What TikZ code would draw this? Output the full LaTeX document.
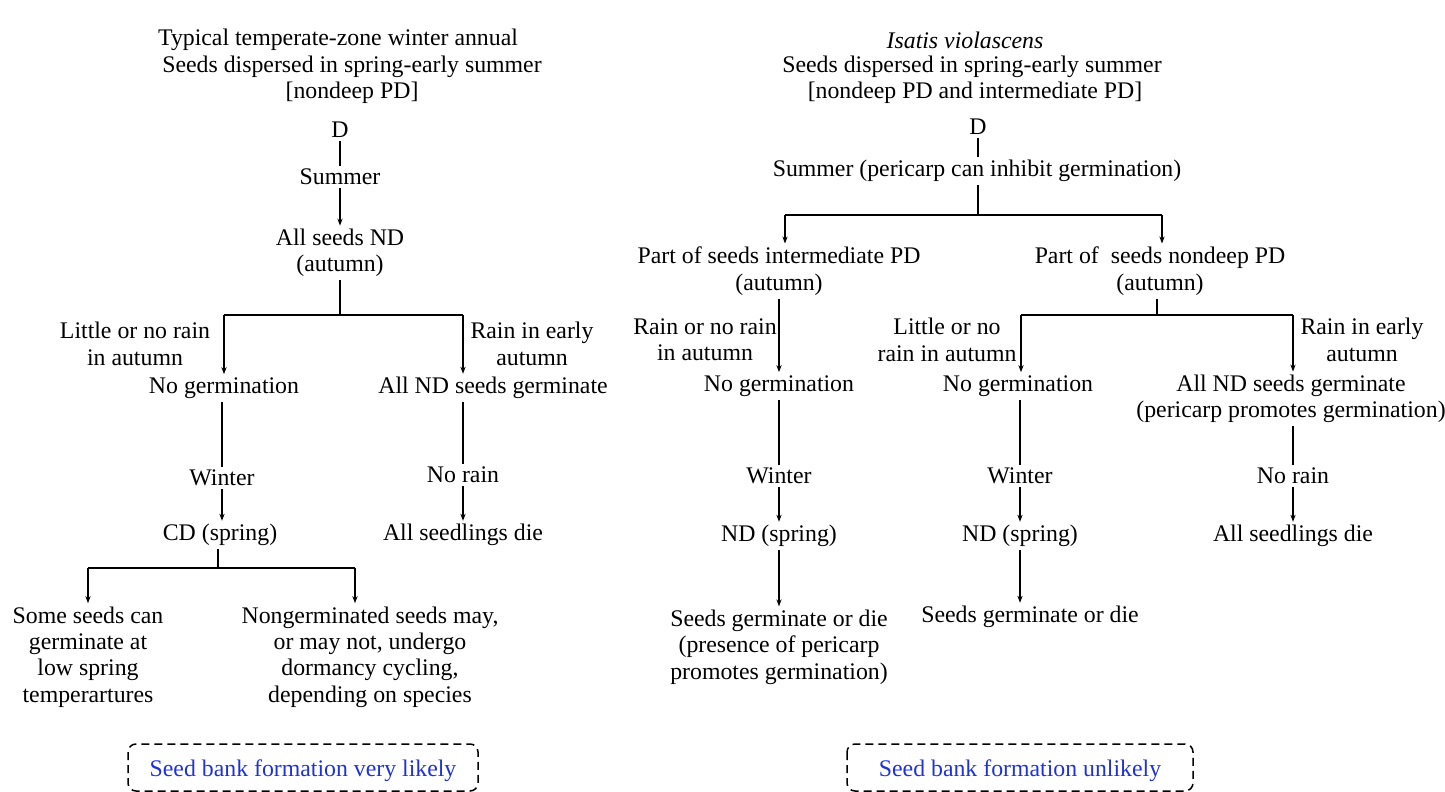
\documentclass[tikz,border=0pt]{standalone}
\usepackage{fontspec}
\setmainfont{Liberation Serif}
\usetikzlibrary{arrows.meta,calc}
\definecolor{bankblue}{RGB}{30,50,215}
\begin{document}
\begin{tikzpicture}[x=0.5pt,y=-0.5pt,
  txt/.style={inner sep=1.5pt,align=center,font=\fontsize{11.9}{13.2}\selectfont},
  ln/.style={line width=0.75pt},
  arr/.style={line width=0.75pt,-{Stealth[length=3.5pt,width=2.6pt]}},
  bankbox/.style={draw,dashed,dash pattern=on 4pt off 2.5pt,line width=0.75pt,rounded corners=4pt}]
\useasboundingbox (0,0) rectangle (1445,792);
% ---------------- left panel
\node[txt] (t1) at (338,40) {Typical temperate-zone winter annual};
\node[txt] (s1) at (352,80) {Seeds dispersed in spring-early summer\\{}[nondeep PD]};
\node[txt] (d1) at (340,130) {D};
\node[txt] (su1) at (340,177) {Summer};
\node[txt] (a1) at (340,253) {All seeds ND\\(autumn)};
\coordinate (j1) at (340,315);
\coordinate (j1l) at (224,315);
\coordinate (j1r) at (463,315);
\node[txt] (lr1) at (135,344) {Little or no rain\\in autumn};
\node[txt] (rr1) at (532,344) {Rain in early\\autumn};
\node[txt] (ng1) at (224,388) {No germination};
\node[txt] (ag1) at (493,388) {All ND seeds germinate};
\node[txt] (w1) at (222,478) {Winter};
\node[txt] (nr1) at (463,475) {No rain};
\node[txt] (cd1) at (220,535) {CD (spring)};
\node[txt] (sd1) at (463,535) {All seedlings die};
\coordinate (j2) at (218,568);
\coordinate (j2l) at (88,568);
\coordinate (j2r) at (355,568);
\node[txt] (ss1) at (88,657) {Some seeds can\\germinate at\\low spring\\temperartures};
\node[txt] (ng2) at (370,657) {Nongerminated seeds may,\\or may not, undergo\\dormancy cycling,\\depending on species};
\node[txt,text=bankblue] (bk1) at (303,771) {Seed bank formation very likely};
\draw[bankbox] (128,744) rectangle (478,791);

\draw[ln] (d1) -- (su1);
\draw[arr] (su1) -- (a1);
\draw[ln] (a1) -- (j1);
\draw[ln] (j1l) -- (j1r);
\draw[arr] (j1l) -- (ng1);
\draw[arr] (j1r) -- (j1r |- ag1.north);
\draw[ln] (ng1.south -| w1) -- (w1);
\draw[ln] (ag1.south -| nr1) -- (nr1);
\draw[arr] (w1) -- (w1 |- cd1.north);
\draw[arr] (nr1) -- (sd1);
\draw[ln] (cd1.south -| j2) -- (j2);
\draw[ln] (j2l) -- (j2r);
\draw[arr] (j2l) -- (ss1);
\draw[arr] (j2r) -- (j2r |- ng2.north);
% ---------------- right panel
\node[txt] (t2) at (965,40) {\itshape Isatis violascens};
\node[txt] (s2) at (972,80) {Seeds dispersed in spring-early summer\\\ [nondeep PD and intermediate PD]};
\node[txt] (d2) at (978,127) {D};
\node[txt] (su2) at (977,171) {Summer (pericarp can inhibit germination)};
\coordinate (j3) at (978,215);
\coordinate (j3l) at (785,215);
\coordinate (j3r) at (1162,215);
\node[txt] (pi) at (779,271) {Part of seeds intermediate PD\\(autumn)};
\node[txt] (pn) at (1160,271) {Part of\ \ seeds nondeep PD\\(autumn)};
\node[txt] (ri) at (705,340) {Rain or no rain\\in autumn};
\node[txt] (ng3) at (779,386) {No germination};
\node[txt] (w3) at (779,476) {Winter};
\node[txt] (nd3) at (779,536) {ND (spring)};
\node[txt] (sg3) at (779,647) {Seeds germinate or die\\(presence of pericarp\\promotes germination)};
\coordinate (j4) at (1157,315);
\coordinate (j4l) at (1021,315);
\coordinate (j4r) at (1293,315);
\node[txt] (lr4) at (947,340) {Little or no\\rain in autumn};
\node[txt] (rr4) at (1362,340) {Rain in early\\autumn};
\node[txt] (ng4) at (1018,386) {No germination};
\node[txt] (ag4) at (1291,399) {All ND seeds germinate\\(pericarp promotes germination)};
\node[txt] (w4) at (1020,476) {Winter};
\node[txt] (nd4) at (1020,536) {ND (spring)};
\node[txt] (sg4) at (1030,617) {Seeds germinate or die};
\node[txt] (nr4) at (1293,476) {No rain};
\node[txt] (sd4) at (1293,536) {All seedlings die};
\node[txt,text=bankblue] (bk2) at (1020,771) {Seed bank formation unlikely};
\draw[bankbox] (847,744) rectangle (1193,791);

\draw[ln] (d2) -- (su2.north -| d2);
\draw[ln] (su2.south -| j3) -- (j3);
\draw[ln] (j3l) -- (j3r);
\draw[arr] (j3l) -- (j3l |- pi.north);
\draw[arr] (j3r) -- (j3r |- pn.north);
\draw[arr] (pi.south -| ng3) -- (ng3);
\draw[ln] (ng3) -- (w3);
\draw[arr] (w3) -- (nd3);
\draw[arr] (nd3) -- (sg3);
\draw[ln] (pn.south -| j4) -- (j4);
\draw[ln] (j4l) -- (j4r);
\draw[arr] (j4l) -- (j4l |- ng4.north);
\draw[arr] (j4r) -- (j4r |- ag4.north);
\draw[ln] (ng4.south -| w4) -- (w4);
\draw[arr] (w4) -- (nd4);
\draw[arr] (nd4) -- (nd4 |- sg4.north);
\draw[ln] (ag4.south -| nr4) -- (nr4);
\draw[arr] (nr4) -- (sd4);
\end{tikzpicture}
\end{document}
